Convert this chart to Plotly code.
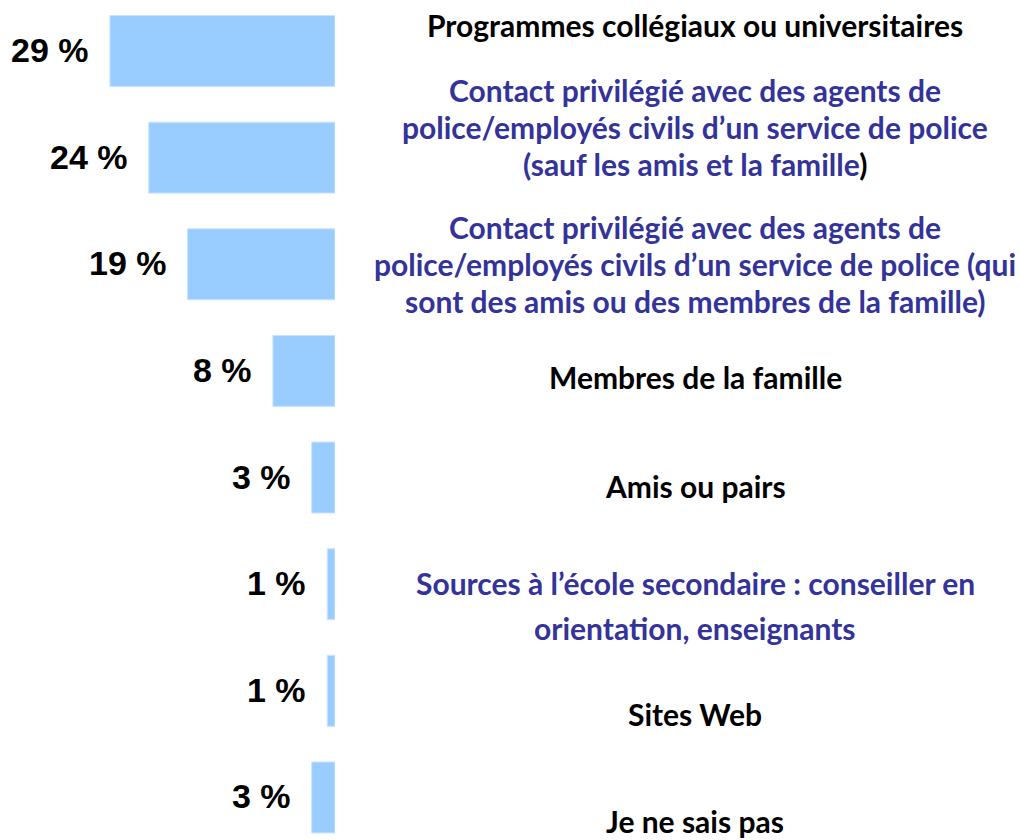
import plotly.graph_objects as go

# ---- data ----
categories = [
    "Programmes collégiaux ou universitaires",
    "Contact privilégié (sauf amis et famille)",
    "Contact privilégié (amis ou famille)",
    "Membres de la famille",
    "Amis ou pairs",
    "Sources à l'école secondaire",
    "Sites Web",
    "Je ne sais pas",
]
values = [29, 24, 19, 8, 3, 1, 1, 3]
value_labels = ["29 %", "24 %", "19 %", "8 %", "3 %", "1 %", "1 %", "3 %"]

BLUE = "#333399"
# each right-hand label line: (text, colour)
label_lines = [
    [("Programmes collégiaux ou universitaires", "black")],
    [("Contact privilégié avec des agents de", BLUE),
     ("police/employés civils d’un service de police", BLUE),
     ("(sauf les amis et la famille<span style='color:black'>)</span>", BLUE)],
    [("Contact privilégié avec des agents de", BLUE),
     ("police/employés civils d’un service de police (qui", BLUE),
     ("sont des amis ou des membres de la famille)", BLUE)],
    [("Membres de la famille", "black")],
    [("Amis ou pairs", "black")],
    [("Sources à l’école secondaire : conseiller en", BLUE),
     ("orientation, enseignants", BLUE)],
    [("Sites Web", "black")],
    [("Je ne sais pas", "black")],
]

# ---- layout (pixel) settings ----
W, H = 1020, 840
line_pix_y = [[25], [90, 127, 164], [227, 264, 301], [377], [486], [583, 628], [714], [821]]
label_cx = 695
bar_right_px = 335
px_per_unit = 7.76
row_px = 106.64
first_center_px = 51

ypos = list(range(len(values)))
x_max = bar_right_px / px_per_unit
y_top = -first_center_px / row_px
y_bot = (len(values) - 1) + (H - (first_center_px + row_px * (len(values) - 1))) / row_px

fig = go.Figure()
fig.add_trace(go.Bar(
    x=values, y=ypos, orientation="h",
    width=0.665,
    marker=dict(color="#99CCFF", line=dict(color="#C8E4FF", width=1)),
    hoverinfo="skip",
))

annotations = []
for v, lab, y in zip(values, value_labels, ypos):
    annotations.append(dict(
        x=v, y=y, xref="x", yref="y", text=lab, showarrow=False,
        xanchor="right", yanchor="middle", xshift=-19, yshift=1,
        font=dict(family="Liberation Sans, Arial", size=34, color="black", weight="bold"),
    ))

for lines, ys in zip(label_lines, line_pix_y):
    for (txt, col), py in zip(lines, ys):
        annotations.append(dict(
            x=label_cx / W, y=1 - py / H, xref="paper", yref="paper",
            text=txt, showarrow=False, xanchor="center", yanchor="middle",
            font=dict(family="Lato, Carlito, Calibri, sans-serif", size=30, color=col, weight="bold"),
        ))

fig.update_layout(
    width=W, height=H,
    margin=dict(l=0, r=0, t=0, b=0),
    paper_bgcolor="white", plot_bgcolor="white",
    showlegend=False,
    xaxis=dict(domain=[0, bar_right_px / W], range=[x_max, 0], visible=False, fixedrange=True),
    yaxis=dict(domain=[0, 1], range=[y_bot, y_top], visible=False, fixedrange=True),
    annotations=annotations,
)

fig.write_html(
    "out.html",
    config={"displayModeBar": False},
    post_script="document.body.style.margin='0';document.body.style.overflow='hidden';",
)
